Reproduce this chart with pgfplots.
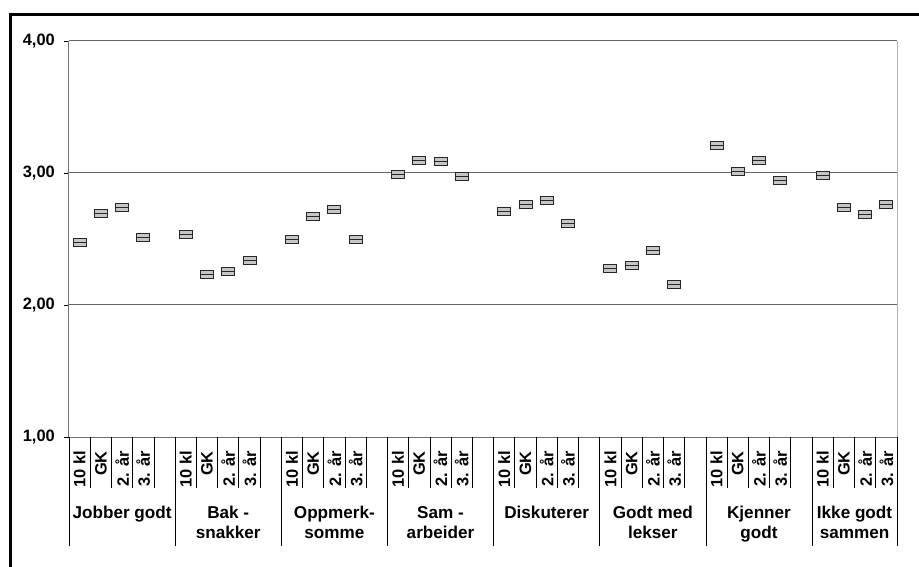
\documentclass[border=0pt]{standalone}
\usepackage{pgfplots}
\pgfplotsset{compat=1.18}
\usepackage{fontspec}
\setmainfont{Liberation Sans}
\pgfdeclareplotmark{hbox}{%
  \pgfpathrectangle{\pgfpoint{-6.5bp}{-4bp}}{\pgfpoint{13bp}{8bp}}%
  \pgfusepathqfillstroke
  \pgfpathmoveto{\pgfpoint{-6.5bp}{0bp}}%
  \pgfpathlineto{\pgfpoint{6.5bp}{0bp}}%
  \pgfusepathqstroke}
\newcommand{\lblfont}{\fontsize{16.5}{20}\selectfont\bfseries}
\newcommand{\grpfont}{\fontsize{17.2}{20}\selectfont\bfseries}
\begin{document}
\begin{tikzpicture}
\useasboundingbox (-69bp,-130bp) rectangle (850bp,437bp);
\draw[line width=3bp] (-58.5bp,-131bp) -- (-58.5bp,422.5bp) -- (851bp,422.5bp);
% Axis A: data, y axis
\begin{axis}[
  at={(0,0)}, anchor=south west,
  scale only axis, width=828bp, height=396bp,
  xmin=0, xmax=39, ymin=1, ymax=4,
  axis lines*=left,
  axis line style={black!55, line width=1bp},
  xtick=\empty,
  major tick length=5bp,
  tick align=outside,
  tick style={black, line width=0.8bp},
  ytick={1,2,3,4},
  yticklabels={{1,00},{2,00},{3,00},{4,00}},
  yticklabel style={inner sep=0pt, xshift=-9bp, font=\lblfont},
  ymajorgrids,
  grid style={black!60, line width=1bp},
  clip=false,
]
\addplot[only marks, mark=hbox, mark options={fill=gray!45, draw=black!85, line width=0.9bp}] table {
x y
0.5 2.475
1.5 2.695
2.5 2.737
3.5 2.513
5.5 2.536
6.5 2.232
7.5 2.252
8.5 2.336
10.5 2.500
11.5 2.669
12.5 2.727
13.5 2.500
15.5 2.987
16.5 3.098
17.5 3.091
18.5 2.972
20.5 2.710
21.5 2.763
22.5 2.795
23.5 2.621
25.5 2.278
26.5 2.301
27.5 2.411
28.5 2.159
30.5 3.207
31.5 3.010
32.5 3.096
33.5 2.947
35.5 2.980
36.5 2.740
37.5 2.689
38.5 2.758
};
\draw[black!30, line width=1bp] (rel axis cs:1,0) -- (rel axis cs:1,1);
\end{axis}
% Axis B: sub-category labels and group separators
\begin{axis}[
  at={(0,0)}, anchor=south west,
  scale only axis, width=828bp, height=396bp,
  xmin=0, xmax=39, ymin=1, ymax=4,
  axis lines*=left,
  axis line style={draw=none},
  ytick=\empty,
  xtick={0.5,1.5,2.5,3.5,5.5,6.5,7.5,8.5,10.5,11.5,12.5,13.5,15.5,16.5,17.5,18.5,20.5,21.5,22.5,23.5,25.5,26.5,27.5,28.5,30.5,31.5,32.5,33.5,35.5,36.5,37.5,38.5},
  xticklabels={10 kl,GK,2. år,3. år,10 kl,GK,2. år,3. år,10 kl,GK,2. år,3. år,10 kl,GK,2. år,3. år,10 kl,GK,2. år,3. år,10 kl,GK,2. år,3. år,10 kl,GK,2. år,3. år,10 kl,GK,2. år,3. år},
  xticklabel style={yshift=-14bp, rotate=90, anchor=east, inner sep=0pt, font=\lblfont},
  major tick length=0pt,
  minor xtick={0,5,10,15,20,25,30,35,39},
  minor tick length=109bp,
  tick align=outside,
  tick style={black, line width=0.8bp},
]
\end{axis}
% Axis C: group labels and slot separators
\begin{axis}[
  at={(0,0)}, anchor=south west,
  scale only axis, width=828bp, height=396bp,
  xmin=0, xmax=39, ymin=1, ymax=4,
  axis lines*=left,
  axis line style={draw=none},
  ytick=\empty,
  xtick={2.5,7.5,12.5,17.5,22.5,27.5,32.5,37},
  xticklabels={{Jobber godt},{Bak -\\snakker},{Oppmerk-\\somme},{Sam -\\arbeider},{Diskuterer},{Godt med\\lekser},{Kjenner\\godt},{Ikke godt\\sammen}},
  xticklabel style={yshift=-69bp, anchor=north, align=center, inner sep=0pt, font=\grpfont},
  major tick length=0pt,
  minor xtick={0,1,...,39},
  minor tick length=51bp,
  tick align=outside,
  tick style={black, line width=0.8bp},
]
\end{axis}
\end{tikzpicture}
\end{document}
